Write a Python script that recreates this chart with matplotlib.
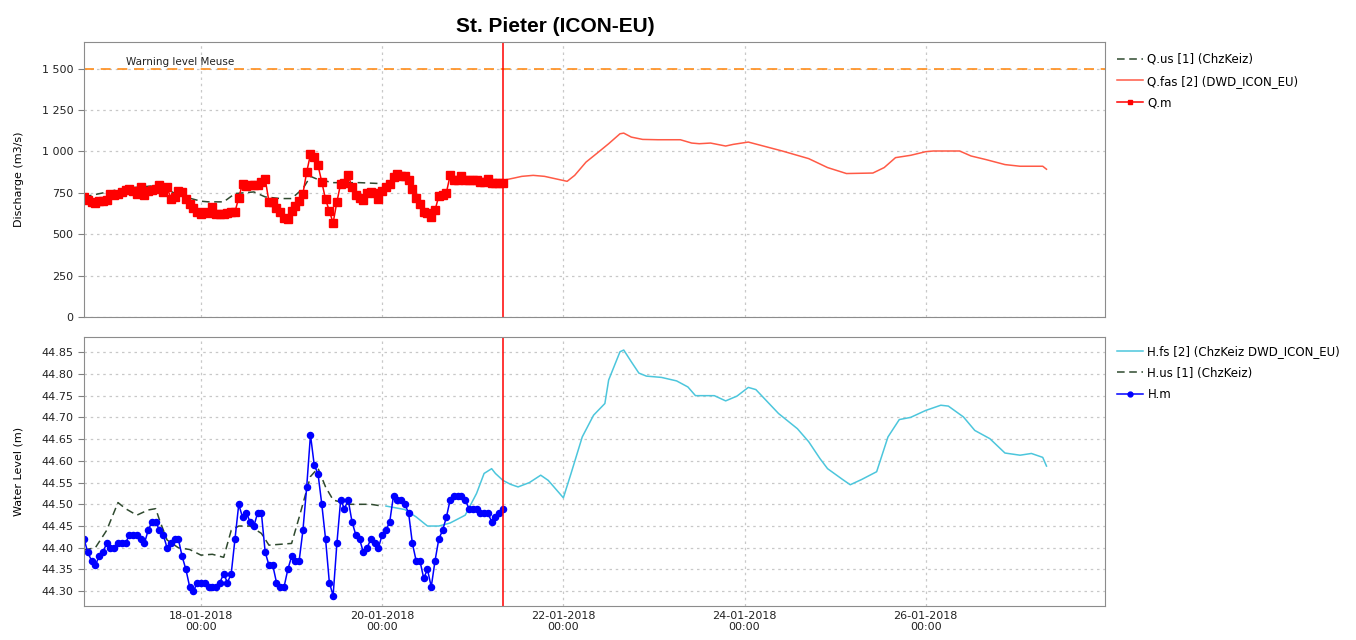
import numpy as np
import pandas as pd
import matplotlib
matplotlib.use('Agg')
import matplotlib.pyplot as plt
import matplotlib.dates as mdates
from matplotlib.ticker import FuncFormatter, MultipleLocator

plt.rcParams['font.family'] = ['DejaVu Sans']

# observations are hourly, starting at t_start
t_start = pd.Timestamp('2018-01-16 17:00')
t_now = pd.Timestamp('2018-01-21 08:00')
x_end = pd.Timestamp('2018-01-27 23:30')
warning_level = 1500

# discharge (m3/s)
q_m = [725, 705, 695, 688, 700, 700, 705, 745, 735, 745,
       755, 765, 775, 760, 745, 785, 735, 760, 765, 770,
       795, 755, 785, 715, 725, 760, 755, 715, 685, 660,
       635, 620, 635, 630, 665, 620, 620, 622, 625, 635,
       635, 720, 805, 790, 795, 795, 795, 815, 835, 695,
       695, 660, 635, 600, 590, 640, 670, 700, 745,
       875, 982, 965, 915, 815, 710, 640, 568, 695, 805,
       810, 855, 785, 735, 720, 705, 750, 755, 750, 715,
       760, 785, 805, 845, 865, 850, 850, 825, 775, 720,
       685, 635, 630, 605, 645, 730, 735, 750, 855, 830,
       825, 850, 830, 825, 825, 825, 815, 815, 835, 810,
       810, 810, 810]
q_us_hours = [0, 5, 9, 13, 20, 25, 31, 33, 37, 40, 45, 48, 52, 55, 58, 60, 62, 66, 73, 79]
q_us = [725, 749, 769, 781, 795, 735, 699, 695, 695, 745, 755, 725, 715, 715, 775, 849, 830, 811, 811, 805]
q_fas_hours = [111, 114, 116, 119, 122, 124, 126, 128, 130, 133, 136, 139, 142, 143, 145, 148, 152,
               158, 161, 163, 166, 170, 172, 176, 180, 185, 192, 197, 202, 209, 212, 215, 219, 223,
               225, 232, 235, 239, 244, 248, 254, 255]
q_fas = [825, 839, 849, 855, 849, 839, 829, 819, 855, 935, 990, 1046, 1106, 1110, 1086, 1072, 1070,
         1070, 1050, 1046, 1050, 1032, 1042, 1056, 1032, 1002, 956, 902, 866, 869, 902, 962, 976, 998,
         1002, 1002, 972, 950, 920, 910, 910, 892]

# water level (m)
h_m = [44.42, 44.39, 44.37, 44.36, 44.38, 44.39, 44.41, 44.40, 44.40, 44.41,
       44.41, 44.41, 44.43, 44.43, 44.43, 44.42, 44.41, 44.44, 44.46, 44.46,
       44.44, 44.43, 44.40, 44.41, 44.42, 44.42, 44.38, 44.35, 44.31, 44.30,
       44.32, 44.32, 44.32, 44.31, 44.31, 44.31, 44.32, 44.34, 44.32, 44.34,
       44.42, 44.50, 44.47, 44.48, 44.46, 44.45, 44.48, 44.48, 44.39, 44.36,
       44.36, 44.32, 44.31, 44.31, 44.35, 44.38,
       44.37, 44.37, 44.44, 44.54, 44.66, 44.59, 44.57, 44.50, 44.42, 44.32,
       44.29, 44.41, 44.51, 44.49, 44.51, 44.46, 44.43, 44.42, 44.39, 44.40,
       44.42, 44.41, 44.40, 44.43, 44.44, 44.46, 44.52, 44.51, 44.51, 44.50,
       44.48, 44.41, 44.37, 44.37, 44.33, 44.35, 44.31, 44.37, 44.42, 44.44,
       44.47, 44.51, 44.52, 44.52, 44.52, 44.51, 44.49, 44.49, 44.49, 44.48,
       44.48, 44.48, 44.46, 44.47, 44.48, 44.49]
h_us_hours = [0, 3, 6, 9, 11, 14, 17, 19, 20, 22, 25, 28, 31, 34, 37, 39, 41, 44, 47, 49,
              52, 55, 57, 60, 62, 64, 66, 70, 76, 79]
h_us = [44.395, 44.40, 44.44, 44.504, 44.49, 44.475, 44.487, 44.49, 44.464, 44.418,
        44.40, 44.396, 44.383, 44.385, 44.378, 44.44, 44.45, 44.45, 44.433, 44.406,
        44.408, 44.41, 44.47, 44.564, 44.583, 44.54, 44.51, 44.50, 44.50, 44.496]
h_fs_hours = [80, 85, 88, 91, 94, 97, 101, 104, 106, 108, 109, 111, 113, 115, 118, 121, 123, 127,
              129, 132, 135, 138, 139, 142, 143, 145, 147, 149, 153, 157, 160, 162, 167, 170, 173,
              176, 178, 184, 189, 192, 195, 197, 201, 203, 206, 210, 213, 216, 219, 223, 227, 229,
              233, 236, 240, 244, 248, 251, 254, 255]
h_fs = [44.496, 44.488, 44.471, 44.45, 44.45, 44.457, 44.475, 44.525, 44.571, 44.582,
        44.571, 44.555, 44.546, 44.54, 44.55, 44.567, 44.555, 44.515, 44.57, 44.655,
        44.705, 44.732, 44.786, 44.851, 44.855, 44.828, 44.802, 44.795, 44.792, 44.784,
        44.77, 44.75, 44.75, 44.738, 44.749, 44.769, 44.764, 44.709, 44.674, 44.644,
        44.605, 44.582, 44.557, 44.545, 44.557, 44.575, 44.655, 44.695, 44.70, 44.716,
        44.728, 44.726, 44.701, 44.67, 44.651, 44.618, 44.613, 44.617, 44.608, 44.588]


def to_time(hours):
    return t_start + pd.to_timedelta(np.array(hours, dtype=float), unit='h')


t_obs = pd.date_range(t_start, periods=len(q_m), freq='h')
t_obs_h = pd.date_range(t_start, periods=len(h_m), freq='h')

fig = plt.figure(figsize=(13.56, 6.4), dpi=100)
W, H = 1356, 640
ax1 = fig.add_axes([84 / W, 1 - 317 / H, (1105 - 84) / W, (317 - 42) / H])
ax2 = fig.add_axes([84 / W, 1 - 606 / H, (1105 - 84) / W, (606 - 337) / H])

grid_kw = dict(color='#c8c8c8', linestyle=(0, (2, 3)), linewidth=0.9)

# --- discharge
l_qus, = ax1.plot(to_time(q_us_hours), q_us, color='#2f4a2f', linestyle=(0, (5, 3)), linewidth=1.1)
l_qfas, = ax1.plot(to_time(q_fas_hours), q_fas, color='#ff5a46', linewidth=1.1)
l_qm, = ax1.plot(t_obs, q_m, color='#ff0000', marker='s', markersize=5.3, linewidth=1.1)
ax1.axhline(warning_level, color='#ff8c1a', linestyle=(0, (6, 4)), linewidth=1.2)
ax1.text(pd.Timestamp('2018-01-17 04:00'), warning_level + 12, 'Warning level Meuse',
         fontsize=7.5, va='bottom', ha='left', color='#222222')
ax1.set_ylim(0, 1660)
ax1.yaxis.set_major_locator(MultipleLocator(250))
ax1.yaxis.set_major_formatter(FuncFormatter(lambda v, p: f'{int(v):,}'.replace(',', ' ')))
ax1.set_ylabel('Discharge (m3/s)', fontsize=8)

# --- water level
l_hfs, = ax2.plot(to_time(h_fs_hours), h_fs, color='#4cc6dc', linewidth=1.1)
l_hus, = ax2.plot(to_time(h_us_hours), h_us, color='#2f4a2f', linestyle=(0, (5, 3)), linewidth=1.1)
l_hm, = ax2.plot(t_obs_h, h_m, color='#0000ff', marker='o', markersize=4.4, linewidth=1.1)
ax2.set_ylim(44.266, 44.885)
ax2.yaxis.set_major_locator(MultipleLocator(0.05))
ax2.yaxis.set_major_formatter(FuncFormatter(lambda v, p: f'{v:.2f}'))
ax2.set_ylabel('Water Level (m)', fontsize=8)

for ax in (ax1, ax2):
    ax.axvline(t_now, color='#ff0000', linewidth=1.1)
    ax.set_xlim(t_start, x_end)
    ax.xaxis.set_major_locator(mdates.DayLocator(bymonthday=[18, 20, 22, 24, 26]))
    ax.xaxis.set_major_formatter(mdates.DateFormatter('%d-%m-%Y\n%H:%M'))
    ax.grid(True, **grid_kw)
    ax.set_axisbelow(True)
    ax.tick_params(labelsize=8, length=4, color='#808080', colors='#222222')
    ax.tick_params(axis='x', length=0)
    for sp in ax.spines.values():
        sp.set_color('#8c8c8c')
    ax.yaxis.set_label_coords(-0.059, 0.5)

ax1.tick_params(axis='x', labelbottom=False)

fig.legend([l_qus, l_qfas, l_qm], ['Q.us [1] (ChzKeiz)', 'Q.fas [2] (DWD_ICON_EU)', 'Q.m'],
           loc='upper left', bbox_to_anchor=(1112 / W, 1 - 48 / H), frameon=False, fontsize=8.5,
           handlelength=2.2, labelspacing=0.75, borderaxespad=0, handletextpad=0.4, markerscale=0.6)
fig.legend([l_hfs, l_hus, l_hm], ['H.fs [2] (ChzKeiz DWD_ICON_EU)', 'H.us [1] (ChzKeiz)', 'H.m'],
           loc='upper left', bbox_to_anchor=(1112 / W, 1 - 340 / H), frameon=False, fontsize=8.5,
           handlelength=2.2, labelspacing=0.75, borderaxespad=0, handletextpad=0.4, markerscale=0.8)

fig.text(555 / W, 1 - 26 / H, 'St. Pieter (ICON-EU)', fontsize=15, fontweight='bold',
         family='Liberation Sans', ha='center', va='center')

fig.savefig('out.png', dpi=100)
